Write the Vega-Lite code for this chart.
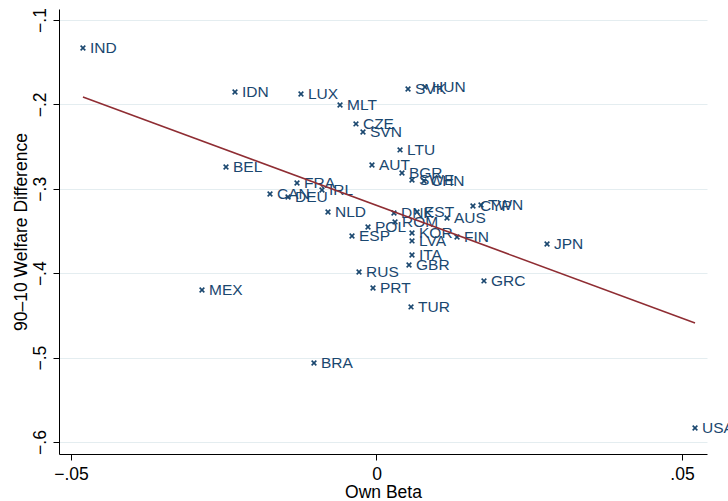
{
  "$schema": "https://vega.github.io/schema/vega-lite/v6.json",
  "width": 648,
  "height": 445,
  "autosize": {"type": "none"},
  "padding": {"left": 59, "top": 9, "right": 21, "bottom": 47},
  "background": "white",
  "config": {
    "view": {"stroke": null},
    "font": "Liberation Sans",
    "axis": {
      "domainColor": "#000000",
      "domainWidth": 1,
      "tickColor": "#000000",
      "tickSize": 6,
      "labelColor": "#000000",
      "titleColor": "#000000",
      "labelFont": "Liberation Sans",
      "titleFont": "Liberation Sans",
      "labelFontSize": 17.5,
      "titleFontSize": 17.5,
      "titleFontWeight": "normal",
      "gridColor": "#e4edf0",
      "gridWidth": 1
    }
  },
  "datasets": {
    "countries": [
      {"iso": "IND", "beta": -0.04804, "diff": -0.1332},
      {"iso": "IDN", "beta": -0.02316, "diff": -0.1853},
      {"iso": "LUX", "beta": -0.01236, "diff": -0.1877},
      {"iso": "MLT", "beta": -0.00597, "diff": -0.2007},
      {"iso": "SVK", "beta": 0.00516, "diff": -0.1818},
      {"iso": "HUN", "beta": 0.00794, "diff": -0.1794},
      {"iso": "CZE", "beta": -0.00336, "diff": -0.2232},
      {"iso": "SVN", "beta": -0.00221, "diff": -0.2327},
      {"iso": "LTU", "beta": 0.00385, "diff": -0.254},
      {"iso": "AUT", "beta": -0.00074, "diff": -0.2718},
      {"iso": "BEL", "beta": -0.02463, "diff": -0.2742},
      {"iso": "BGR", "beta": 0.00417, "diff": -0.2813},
      {"iso": "SWE", "beta": 0.00581, "diff": -0.2896},
      {"iso": "CHN", "beta": 0.00777, "diff": -0.2908},
      {"iso": "FRA", "beta": -0.01301, "diff": -0.2931},
      {"iso": "IRL", "beta": -0.00892, "diff": -0.3014},
      {"iso": "CAN", "beta": -0.01743, "diff": -0.3062},
      {"iso": "DEU", "beta": -0.01448, "diff": -0.3097},
      {"iso": "NLD", "beta": -0.00794, "diff": -0.3275},
      {"iso": "DNK", "beta": 0.00286, "diff": -0.3287},
      {"iso": "EST", "beta": 0.00663, "diff": -0.3275},
      {"iso": "AUS", "beta": 0.01154, "diff": -0.3346},
      {"iso": "CYP", "beta": 0.01579, "diff": -0.3204},
      {"iso": "TWN", "beta": 0.0171, "diff": -0.3192},
      {"iso": "POL", "beta": -0.00139, "diff": -0.3453},
      {"iso": "ROM", "beta": 0.00303, "diff": -0.3393},
      {"iso": "KOR", "beta": 0.00581, "diff": -0.3524},
      {"iso": "LVA", "beta": 0.00581, "diff": -0.3618},
      {"iso": "FIN", "beta": 0.01318, "diff": -0.3571},
      {"iso": "ESP", "beta": -0.00401, "diff": -0.3559},
      {"iso": "ITA", "beta": 0.00581, "diff": -0.3784},
      {"iso": "GBR", "beta": 0.00532, "diff": -0.3903},
      {"iso": "RUS", "beta": -0.00286, "diff": -0.3986},
      {"iso": "PRT", "beta": -0.00057, "diff": -0.4175},
      {"iso": "GRC", "beta": 0.01759, "diff": -0.4092},
      {"iso": "TUR", "beta": 0.00565, "diff": -0.44},
      {"iso": "JPN", "beta": 0.02791, "diff": -0.3654},
      {"iso": "MEX", "beta": -0.02856, "diff": -0.4199},
      {"iso": "BRA", "beta": -0.01023, "diff": -0.5064},
      {"iso": "USA", "beta": 0.05213, "diff": -0.5834}
    ],
    "fit": [
      {"beta": -0.04804, "diff": -0.1912},
      {"beta": 0.05213, "diff": -0.459}
    ]
  },
  "encoding": {
    "x": {
      "field": "beta",
      "type": "quantitative",
      "scale": {"domain": [-0.05196, 0.05409], "nice": false, "zero": false},
      "axis": {
        "title": "Own Beta",
        "values": [-0.05, 0, 0.05],
        "grid": false,
        "labelExpr": "datum.value == 0 ? '0' : replace(format(datum.value, '.2f'), '0.', '.')",
        "labelPadding": 5,
        "titlePadding": 1
      }
    },
    "y": {
      "field": "diff",
      "type": "quantitative",
      "scale": {"domain": [-0.6142, -0.087], "nice": false, "zero": false},
      "axis": {
        "title": "90–10 Welfare Difference",
        "values": [-0.6, -0.5, -0.4, -0.3, -0.2, -0.1],
        "grid": true,
        "labelExpr": "replace(format(datum.value, '.1f'), '0.', '.')",
        "labelAngle": 270,
        "labelAlign": "center",
        "labelBaseline": "bottom",
        "labelPadding": 4,
        "titlePadding": 1
      }
    }
  },
  "layer": [
    {
      "data": {"name": "countries"},
      "mark": {
        "type": "point",
        "shape": "M-1,-1L1,1M-1,1L1,-1",
        "filled": false,
        "size": 22,
        "stroke": "#1a476f",
        "strokeWidth": 1.6,
        "opacity": 1
      }
    },
    {
      "data": {"name": "countries"},
      "mark": {
        "type": "text",
        "align": "left",
        "baseline": "middle",
        "dx": 7,
        "fontSize": 15.5,
        "font": "Liberation Sans",
        "color": "#1a476f"
      },
      "encoding": {"text": {"field": "iso"}}
    },
    {
      "data": {"name": "fit"},
      "mark": {"type": "line", "color": "#8f2d33", "strokeWidth": 1.5},
      "encoding": {}
    }
  ]
}
